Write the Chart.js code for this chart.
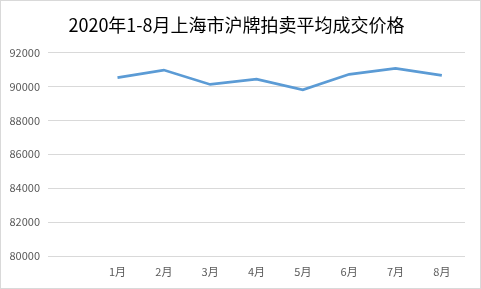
<!DOCTYPE html>
<html>
<head>
<meta charset="utf-8">
<script src="https://cdn.jsdelivr.net/npm/chart.js@4/dist/chart.umd.min.js"></script>
<style>
  html, body { margin: 0; padding: 0; background: #fff; }
  #box { width: 481px; height: 289px; }
</style>
</head>
<body>
<div id="box"><canvas id="chart"></canvas></div>
<script>
const chartTitle = "2020年1-8月上海市沪牌拍卖平均成交价格";
// first slot is blank, the way the source sheet had it
const months = ["", "1月", "2月", "3月", "4月", "5月", "6月", "7月", "8月"];
const avgPrice = [null, 90525, 90970, 90121, 90440, 89808, 90721, 91071, 90652];
const yMin = 80000;
const yMax = 92000;
const yStep = 2000;

const fontFamily = "'Noto Sans CJK SC', 'Noto Sans', sans-serif";

// white background plus the thin grey frame round the whole picture
const frame = {
  id: "frame",
  beforeDraw: (chart) => {
    const ctx = chart.ctx;
    ctx.save();
    ctx.fillStyle = "#ffffff";
    ctx.fillRect(0, 0, chart.width, chart.height);
    ctx.restore();
  },
  afterDraw: (chart) => {
    const ctx = chart.ctx;
    ctx.save();
    ctx.strokeStyle = "#d9d9d9";
    ctx.lineWidth = 1;
    ctx.strokeRect(0.5, 0.5, chart.width - 1, chart.height - 1);
    ctx.restore();
  }
};

new Chart(document.getElementById("chart"), {
  type: "line",
  plugins: [frame],
  data: {
    labels: months,
    datasets: [{
      data: avgPrice,
      borderColor: "#5b9bd5",
      borderWidth: 2.75,
      pointRadius: 0,
      tension: 0,
      fill: false
    }]
  },
  options: {
    responsive: true,
    maintainAspectRatio: false,
    animation: false,
    layout: { padding: { left: 8, right: 16, top: 0, bottom: 0 } },
    plugins: {
      legend: { display: false },
      tooltip: { enabled: false },
      title: {
        display: true,
        text: chartTitle,
        color: "#000000",
        font: { family: fontFamily, size: 18, weight: "normal" },
        padding: { top: 14, bottom: 17 }
      }
    },
    scales: {
      x: {
        offset: true,
        grid: { display: false, drawTicks: false },
        border: { display: false },
        ticks: {
          color: "#595959",
          font: { family: fontFamily, size: 11 },
          padding: 9,
          maxRotation: 0,
          autoSkip: false
        },
        afterFit: (scale) => { scale.height = 33; }
      },
      y: {
        min: yMin,
        max: yMax,
        grid: { color: "#d9d9d9", lineWidth: 1, drawTicks: false },
        border: { display: false },
        ticks: {
          stepSize: yStep,
          color: "#595959",
          font: { family: fontFamily, size: 11 },
          padding: 8,
          callback: (v) => String(v)
        },
        afterFit: (scale) => { scale.width = 40; }
      }
    }
  }
});
</script>
</body>
</html>
